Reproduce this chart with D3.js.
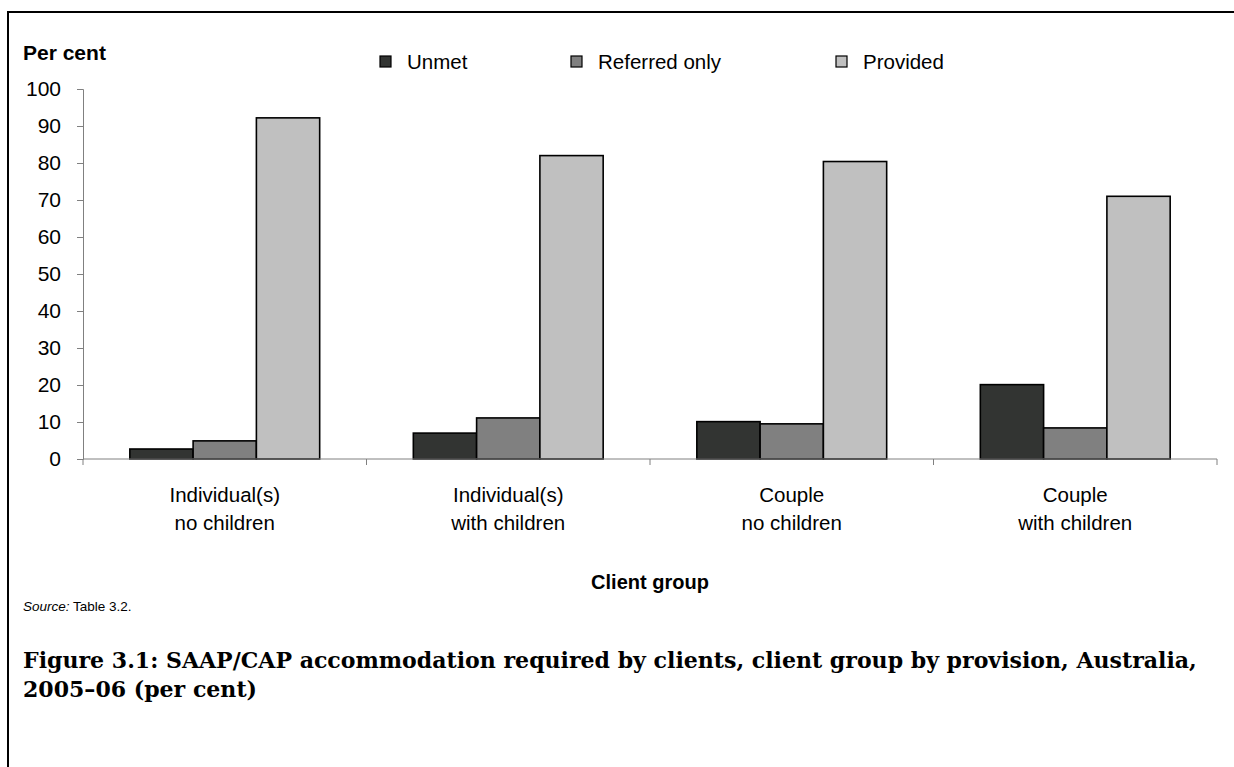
<!DOCTYPE html>
<html>
<head>
<meta charset="utf-8">
<script src="https://cdn.jsdelivr.net/npm/d3@7"></script>
<style>
  html, body { margin: 0; padding: 0; background: #fff; }
  svg { display: block; }
</style>
</head>
<body>
<svg id="chart" width="1234" height="767"></svg>
<script>
// ---- data ----
const categories = [
  ["Individual(s)", "no children"],
  ["Individual(s)", "with children"],
  ["Couple", "no children"],
  ["Couple", "with children"]
];
const seriesNames = ["Unmet", "Referred only", "Provided"];
const unmet = [2.7, 7.0, 10.1, 20.1];
const referredOnly = [4.9, 11.1, 9.5, 8.4];
const provided = [92.2, 82.0, 80.4, 71.0];
const yTicks = [0, 10, 20, 30, 40, 50, 60, 70, 80, 90, 100];
const seriesColors = ["#323432", "#808080", "#c0c0c0"];
const yLabel = "Per cent";
const xLabel = "Client group";
const sourceItalic = "Source:";
const sourceText = " Table 3.2.";
const captionLines = [
  "Figure 3.1: SAAP/CAP accommodation required by clients, client group by provision, Australia,",
  "2005–06 (per cent)"
];

const seriesValues = [unmet, referredOnly, provided];

const svg = d3.select("#chart");
const font = "'Liberation Sans', Arial, sans-serif";

// frame (top and left border)
svg.append("path")
  .attr("d", "M8,767 L8,12 L1234,12")
  .attr("fill", "none").attr("stroke", "#000").attr("stroke-width", 2);

const plot = { left: 83, right: 1217, top: 89, bottom: 459 };

const x0 = d3.scaleBand().domain(d3.range(categories.length))
  .range([plot.left, plot.right]).paddingInner(0).paddingOuter(0);
const x1 = d3.scaleBand().domain(d3.range(seriesNames.length))
  .range([0, x0.bandwidth()]).paddingInner(0).paddingOuter(0.74);
const y = d3.scaleLinear().domain([0, 100]).range([plot.bottom, plot.top]);

// y axis
const yAxis = svg.append("g").attr("transform", `translate(${plot.left},0)`)
  .call(d3.axisLeft(y).tickValues(yTicks).tickSize(6).tickPadding(16).tickFormat(d3.format("d")));
yAxis.select(".domain").attr("stroke", "#808080").attr("stroke-width", 1);
yAxis.selectAll(".tick line").attr("stroke", "#808080");
yAxis.selectAll(".tick text").attr("font-family", font).attr("font-size", 21).attr("fill", "#000");

// bars
const groups = svg.append("g").selectAll("g").data(categories).join("g")
  .attr("transform", (d, i) => `translate(${x0(i)},0)`);
groups.selectAll("rect")
  .data((d, i) => seriesValues.map((vals, s) => ({ s, v: vals[i] })))
  .join("rect")
  .attr("x", d => x1(d.s))
  .attr("width", x1.bandwidth())
  .attr("y", d => y(d.v))
  .attr("height", d => y(0) - y(d.v))
  .attr("fill", d => seriesColors[d.s])
  .attr("stroke", "#000").attr("stroke-width", 1.6);

// x axis
const xBoundaries = d3.range(categories.length + 1).map(i => i < categories.length ? x0(i) : x0.range()[1]);
const xAxis = svg.append("g");
xAxis.append("line")
  .attr("x1", plot.left).attr("x2", plot.right)
  .attr("y1", y(0)).attr("y2", y(0))
  .attr("stroke", "#808080").attr("stroke-width", 1);
xAxis.selectAll("line.tick").data(xBoundaries).join("line")
  .attr("class", "tick")
  .attr("x1", d => d).attr("x2", d => d)
  .attr("y1", y(0)).attr("y2", y(0) + 6)
  .attr("stroke", "#808080");

// category labels
const catLabels = svg.append("g").selectAll("text").data(categories).join("text")
  .attr("x", (d, i) => x0(i) + x0.bandwidth() / 2)
  .attr("y", 502)
  .attr("text-anchor", "middle")
  .attr("font-family", font).attr("font-size", 20.5).attr("fill", "#000");
catLabels.selectAll("tspan").data(d => d).join("tspan")
  .attr("x", function () { return this.parentNode.getAttribute("x"); })
  .attr("dy", (d, i) => i === 0 ? 0 : 28)
  .text(d => d);

// axis titles
svg.append("text").attr("x", 23).attr("y", 60)
  .attr("font-family", font).attr("font-weight", "bold").attr("font-size", 21)
  .text(yLabel);
svg.append("text").attr("x", (plot.left + plot.right) / 2).attr("y", 589)
  .attr("text-anchor", "middle")
  .attr("font-family", font).attr("font-weight", "bold").attr("font-size", 20)
  .text(xLabel);

// legend
const legendX = [380, 571, 836];
const legend = svg.append("g").selectAll("g").data(seriesNames).join("g")
  .attr("transform", (d, i) => `translate(${legendX[i]},56)`);
legend.append("rect").attr("x", 0).attr("y", 0).attr("width", 11).attr("height", 11)
  .attr("fill", (d, i) => seriesColors[i]).attr("stroke", "#000").attr("stroke-width", 1.2);
legend.append("text").attr("x", 27).attr("y", 13)
  .attr("font-family", font).attr("font-size", 20.5).text(d => d);

// source
const src = svg.append("text").attr("x", 23).attr("y", 611)
  .attr("font-family", font).attr("font-size", 13.5);
src.append("tspan").attr("font-style", "italic").text(sourceItalic);
src.append("tspan").text(sourceText);

// caption (fit first line to measured width of reference)
const capFont = "'DejaVu Serif', 'Liberation Serif', serif";
const cap = svg.append("g");
const capTexts = cap.selectAll("text").data(captionLines).join("text")
  .attr("x", 23).attr("y", (d, i) => 668 + i * 29)
  .attr("font-family", capFont).attr("font-weight", "bold").attr("font-size", 20)
  .attr("fill", "#000")
  .text(d => d);
const w0 = capTexts.nodes()[0].getComputedTextLength();
const fs = 20 * 1174 / w0;
capTexts.attr("font-size", fs);
</script>
</body>
</html>
